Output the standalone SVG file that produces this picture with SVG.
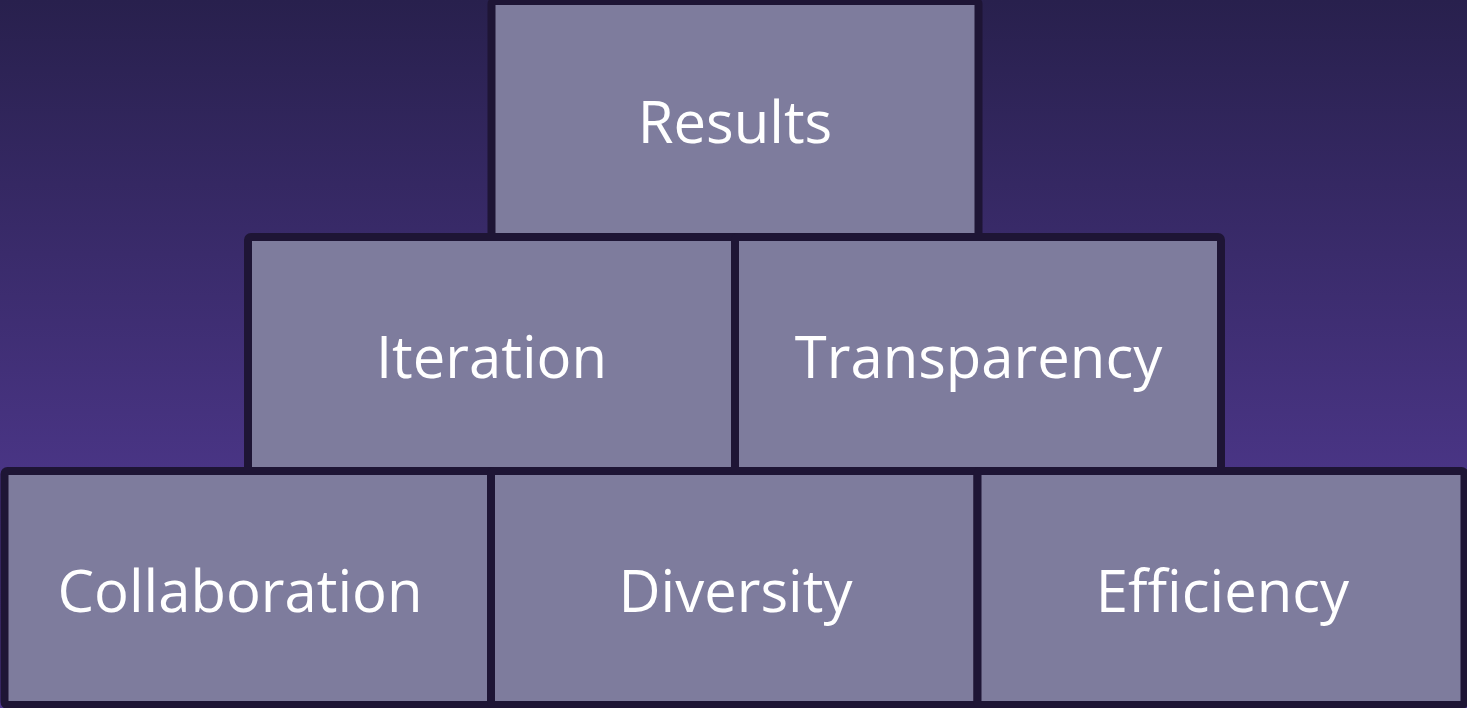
<svg xmlns="http://www.w3.org/2000/svg" width="1467" height="708" viewBox="0 0 1467 708">
  <defs>
    <linearGradient id="bg" x1="0" y1="0" x2="0" y2="1">
      <stop offset="0" stop-color="#28204d"/>
      <stop offset="0.68" stop-color="#4a3586"/>
      <stop offset="1" stop-color="#4f3890"/>
    </linearGradient>
  </defs>
  <style>
    .box { fill: #7e7c9d; stroke: #1e1535; stroke-width: 8; }
    .lbl { fill: #ffffff; font-family: "Open Sans", "Noto Sans", "Liberation Sans", sans-serif; font-size: 58px; text-anchor: middle; }
  </style>
  <rect x="0" y="0" width="1467" height="708" fill="url(#bg)"/>
  <g id="results">
    <rect class="box" x="491.5" y="1" width="487" height="236" rx="3"/>
    <text class="lbl" x="735" y="143">Results</text>
  </g>
  <g id="iteration">
    <rect class="box" x="248" y="237" width="487" height="234" rx="3"/>
    <text class="lbl" x="491.5" y="378">Iteration</text>
  </g>
  <g id="transparency">
    <rect class="box" x="735" y="237" width="486" height="234" rx="3"/>
    <text class="lbl" x="978.5" y="378">Transparency</text>
  </g>
  <g id="collaboration">
    <rect class="box" x="4.5" y="471" width="486.5" height="234" rx="3"/>
    <text class="lbl" x="240" y="612">Collaboration</text>
  </g>
  <g id="diversity">
    <rect class="box" x="491" y="471" width="486.5" height="234" rx="3"/>
    <text class="lbl" x="735.5" y="612">Diversity</text>
  </g>
  <g id="efficiency">
    <rect class="box" x="977.5" y="471" width="487" height="234" rx="3"/>
    <text class="lbl" x="1222.5" y="612">Efficiency</text>
  </g>
  <g id="connectors"></g>
</svg>
